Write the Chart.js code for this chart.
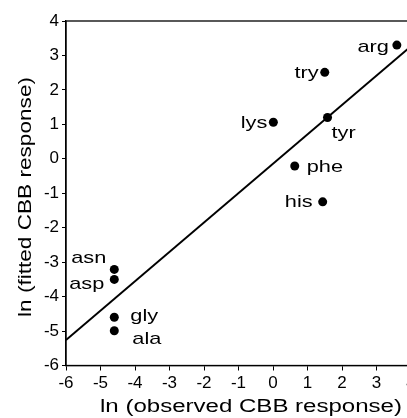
<!DOCTYPE html>
<html>
<head>
<meta charset="utf-8">
<script src="https://cdn.jsdelivr.net/npm/chart.js@4"></script>
<style>
  html, body { margin: 0; padding: 0; background: #fff; overflow: hidden; }
  #wrap { position: relative; width: 430px; height: 418px; }
</style>
</head>
<body>
<div id="wrap"><canvas id="chart"></canvas></div>
<script>
// amino acids, ln values
const names = ['arg', 'try', 'lys', 'tyr', 'phe', 'his', 'asn', 'asp', 'gly', 'ala'];
const observed = [3.59, 1.50, 0.01, 1.58, 0.63, 1.44, -4.6, -4.6, -4.6, -4.6];
const fitted = [3.30, 2.51, 1.06, 1.20, -0.21, -1.25, -3.21, -3.50, -4.60, -4.99];

// regression line end points
const fitX = [-6, 4];
const fitY = [-5.26, 3.27];

const xRange = [-6, 4];
const yRange = [-6, 4];
const xTitle = 'ln (observed CBB response)';
const yTitle = 'ln (fitted CBB response)';

// where each label sits relative to its dot (pixels)
const labelPlace = {
    arg: { align: 'right', dx: -8, dy: 7 },
    try: { align: 'right', dx: -6, dy: 6 },
    lys: { align: 'right', dx: -6, dy: 6 },
    tyr: { align: 'left', dx: 4, dy: 21 },
    phe: { align: 'left', dx: 12, dy: 6 },
    his: { align: 'right', dx: -10, dy: 5 },
    asn: { align: 'right', dx: -8, dy: -6 },
    asp: { align: 'right', dx: -10, dy: 10 },
    gly: { align: 'left', dx: 16, dy: 4 },
    ala: { align: 'left', dx: 18, dy: 13 }
};

const FONT = '"Liberation Sans", Arial, Helvetica, sans-serif';

function stretchedText(ctx, text, x, y, align, sx) {
    ctx.save();
    ctx.translate(x, y);
    ctx.scale(sx, 1);
    ctx.textAlign = align;
    ctx.textBaseline = 'alphabetic';
    ctx.fillText(text, 0, 0);
    ctx.restore();
}

const frame = {
    id: 'frame',
    beforeDatasetsDraw(chart) {
        const { ctx, chartArea: a } = chart;
        ctx.save();
        ctx.strokeStyle = '#000';
        ctx.lineWidth = 1.3;
        ctx.strokeRect(a.left, a.top, a.right - a.left, a.bottom - a.top);
        ctx.restore();
    }
};

const texts = {
    id: 'texts',
    afterDatasetsDraw(chart) {
        const ctx = chart.ctx;
        ctx.save();
        ctx.fillStyle = '#000';
        ctx.font = '17px ' + FONT;
        const pts = chart.getDatasetMeta(1).data;
        pts.forEach((p, i) => {
            const lp = labelPlace[names[i]];
            stretchedText(ctx, names[i], p.x + lp.dx, p.y + lp.dy, lp.align, 1.28);
        });

        // axis titles, drawn wide like the original
        ctx.font = '18px ' + FONT;
        const kx = 302 / ctx.measureText(xTitle).width;
        stretchedText(ctx, xTitle, 251, 412, 'center', kx);

        const ky = 240 / ctx.measureText(yTitle).width;
        ctx.translate(31, 197);
        ctx.rotate(-Math.PI / 2);
        stretchedText(ctx, yTitle, 0, 0, 'center', ky);
        ctx.restore();
    }
};

new Chart(document.getElementById('chart'), {
    data: {
        datasets: [{
            type: 'line',
            data: fitX.map((x, i) => ({ x: x, y: fitY[i] })),
            borderColor: '#000',
            borderWidth: 2,
            pointRadius: 0,
            fill: false
        }, {
            type: 'scatter',
            data: observed.map((x, i) => ({ x: x, y: fitted[i] })),
            backgroundColor: '#000',
            borderWidth: 0,
            pointRadius: 4.5
        }]
    },
    options: {
        responsive: true,
        maintainAspectRatio: false,
        animation: false,
        layout: { padding: { top: 21, right: 19, left: 0, bottom: 0 } },
        plugins: { legend: { display: false }, tooltip: { enabled: false } },
        scales: {
            x: {
                type: 'linear',
                min: xRange[0],
                max: xRange[1],
                ticks: { stepSize: 1, color: '#000', padding: 3, maxRotation: 0,
                         font: { family: FONT, size: 17 } },
                grid: { drawOnChartArea: false, drawTicks: true, tickLength: 5, color: '#000' },
                border: { color: '#000', width: 1.3 },
                afterFit: (s) => { s.height = 52.5; }
            },
            y: {
                type: 'linear',
                min: yRange[0],
                max: yRange[1],
                ticks: { stepSize: 1, color: '#000', padding: 3,
                         font: { family: FONT, size: 17 } },
                grid: { drawOnChartArea: false, drawTicks: true, tickLength: 4, color: '#000' },
                border: { color: '#000', width: 1.3 },
                afterFit: (s) => { s.width = 66; }
            }
        }
    },
    plugins: [frame, texts]
});
</script>
</body>
</html>
